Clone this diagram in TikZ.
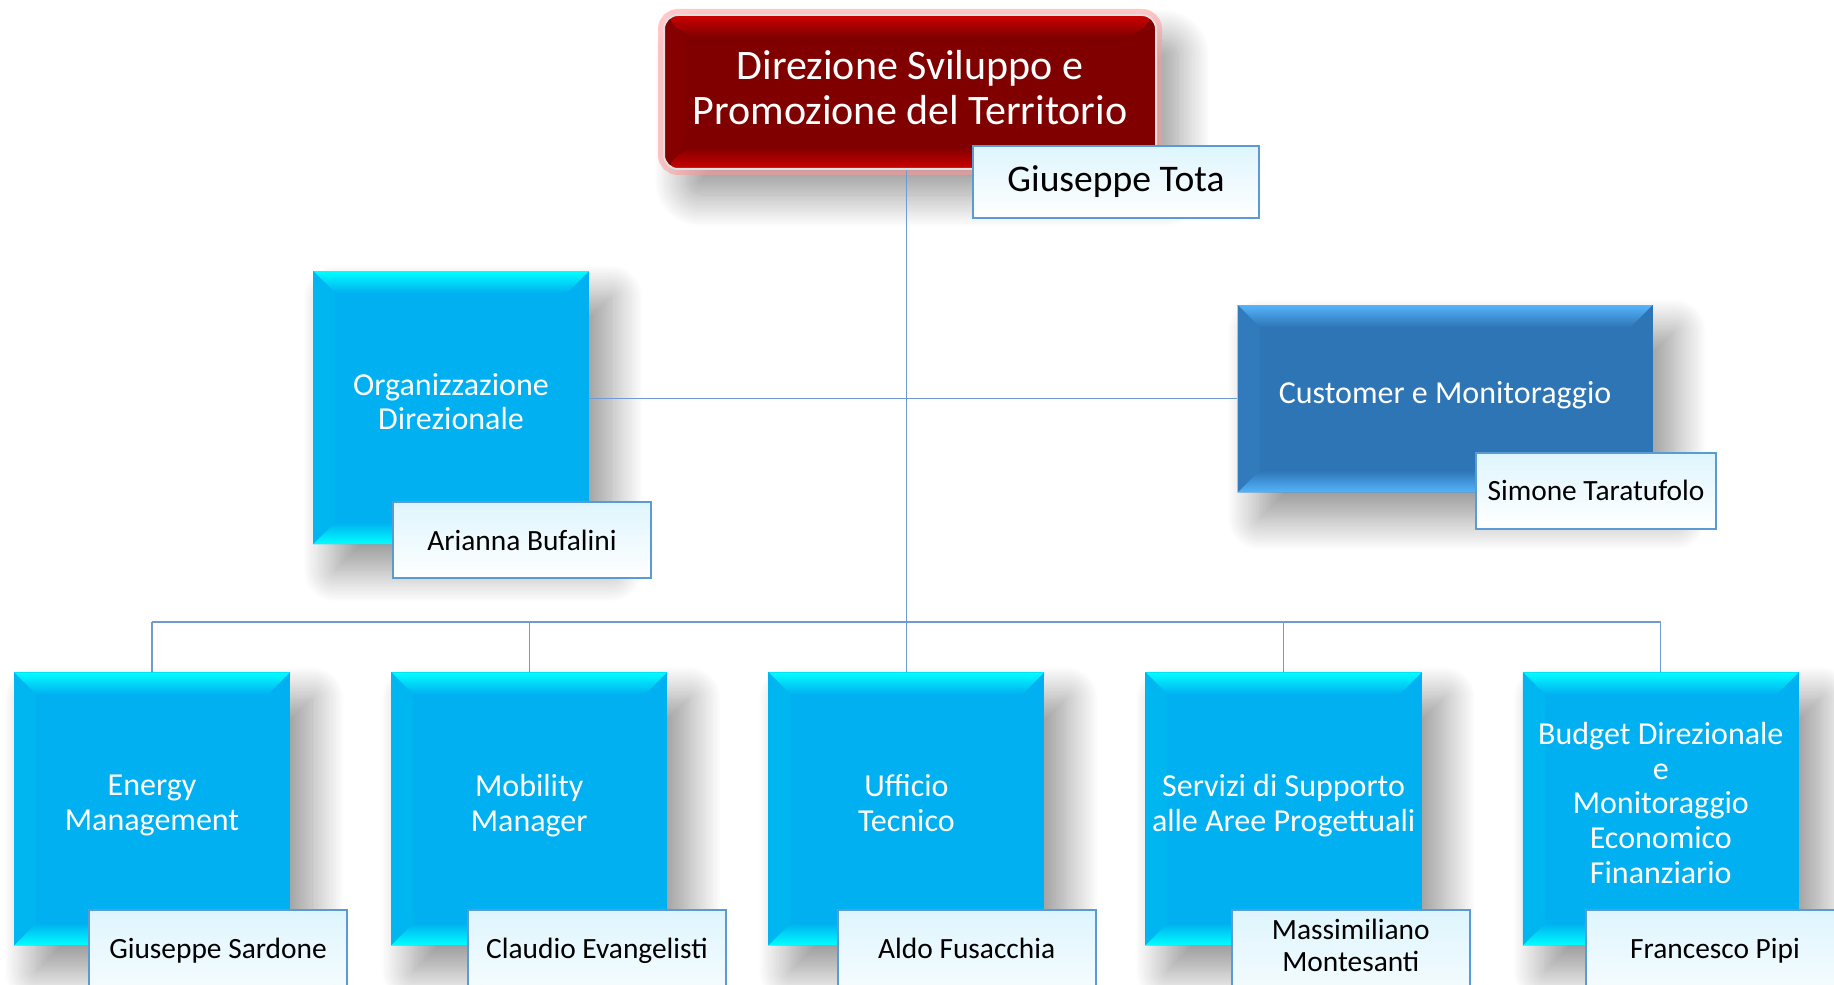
\documentclass[tikz,border=0pt]{standalone}
\usepackage{fontspec}
\setmainfont{Carlito}
\usetikzlibrary{positioning,shadows.blur}

\definecolor{unitblue}{RGB}{0,176,240}
\definecolor{unitcyan}{RGB}{0,255,255}
\definecolor{custblue}{RGB}{46,117,182}
\definecolor{custlight}{RGB}{85,180,250}
\definecolor{dirred}{RGB}{128,0,0}
\definecolor{dirlight}{RGB}{205,0,0}
\definecolor{linkblue}{RGB}{110,155,210}
\definecolor{nameedge}{RGB}{91,155,213}
\definecolor{nametop}{RGB}{222,245,253}

\tikzset{
  bevel/.style 2 args={path picture={
    \path (path picture bounding box.south west) coordinate (bsw)
          (path picture bounding box.north east) coordinate (bne);
    \fill[top color=#2, bottom color=#1] (bsw |- bne) -- (bne)
      -- ([shift={(-11pt,-11pt)}]bne) -- ([shift={(11pt,-11pt)}]bsw |- bne) -- cycle;
    \fill[bottom color=#2, top color=#1] (bsw) -- (bsw -| bne)
      -- ([shift={(-11pt,11pt)}]bsw -| bne) -- ([shift={(11pt,11pt)}]bsw) -- cycle;
    \fill[#1!92!#2] ([shift={(11pt,11pt)}]bsw) -- ([shift={(11pt,-11pt)}]bsw |- bne)
      -- (bsw |- bne) -- (bsw) -- cycle;
  }},
  shade/.style={blur shadow={shadow xshift=11pt, shadow yshift=-13pt,
    shadow blur radius=16pt, shadow blur steps=24, shadow opacity=42}},
  dirbox/.style={rectangle, rounded corners=7pt, fill=dirred, text=white,
    draw=white!75!gray, line width=1pt, shade,
    preaction={draw=red!40, line width=6pt, opacity=.55},
    bevel={dirred}{dirlight}, align=center, text depth=4.6pt,
    minimum width=246pt, minimum height=77pt,
    font=\fontsize{21}{22.8}\selectfont},
  unitbox/.style={rectangle, fill=unitblue, text=white, shade,
    bevel={unitblue}{unitcyan}, align=center, text depth=6pt,
    minimum width=138pt, minimum height=136.5pt,
    font=\fontsize{16}{17.3}\selectfont},
  custbox/.style={unitbox, fill=custblue, bevel={custblue}{custlight},
    minimum width=207.5pt, minimum height=93.7pt},
  namebox/.style={rectangle, top color=nametop, bottom color=white,
    draw=nameedge, line width=1pt, align=center,
    minimum width=129pt, minimum height=38pt,
    font=\fontsize{14.7}{15.8}\selectfont},
  namelow/.style={namebox, anchor=north, minimum height=0pt, inner ysep=3pt,
    text height=21pt, text depth=30pt},
  link/.style={draw=linkblue, line width=0.6pt}
}

\begin{document}
\begin{tikzpicture}[x=0.5pt,y=-0.5pt,node distance=188.6pt,on grid]
\useasboundingbox (0,0) rectangle (1834,984);

% head of the direction
\node[dirbox] (dir) at (910,92) {Direzione Sviluppo e\\Promozione del Territorio};
\node[namebox, minimum width=142.75pt, minimum height=35.75pt,
  font=\fontsize{18.8}{22}\selectfont] (tota) at (1116,182) {Giuseppe Tota};

% staff units
\node[unitbox] (org) at (451,407.5) {Organizzazione\\Direzionale};
\node[namebox] (bufalini) at (522,540) {Arianna Bufalini};
\node[custbox] (cust) at (1445,398.7) {Customer e Monitoraggio};
\node[namebox, minimum width=120pt] (taratufolo) at (1596,490.6) {Simone Taratufolo};

% line units
\node[unitbox] (emg) at (152,808.75) {Energy\\Management};
\node[unitbox] (mob) [right = of emg] {Mobility\\Manager};
\node[unitbox] (uff) [right = of mob] {Ufficio\\Tecnico};
\node[unitbox] (srv) [right = of uff] {Servizi di Supporto\\alle Aree Progettuali};
\node[unitbox] (bdg) [right = of srv] {Budget Direzionale\\e\\Monitoraggio\\Economico\\Finanziario};

\node[namelow] (sardone) at (218,909) {Giuseppe Sardone};
\node[namelow] (evangelisti) at (597,909) {Claudio Evangelisti};
\node[namelow] (fusacchia) at (966.7,909) {Aldo Fusacchia};
\node[namelow, minimum width=119.2pt, text height=27.5pt] (montesanti) at (1350.8,909) {Massimiliano\\Montesanti};
\node[namelow] (pipi) at (1715,909) {Francesco Pipi};

% connectors
\coordinate (bus) at (906,622);
\draw[link] (uff.north |- dir.south) -- (uff.north);
\draw[link] (org.east |- cust.west) -- (cust.west);
\draw[link] (emg.north |- bus) -- (bdg.north |- bus);
\foreach \u in {emg,mob,srv,bdg}
  \draw[link] (\u.north) -- (\u.north |- bus);
\end{tikzpicture}
\end{document}
